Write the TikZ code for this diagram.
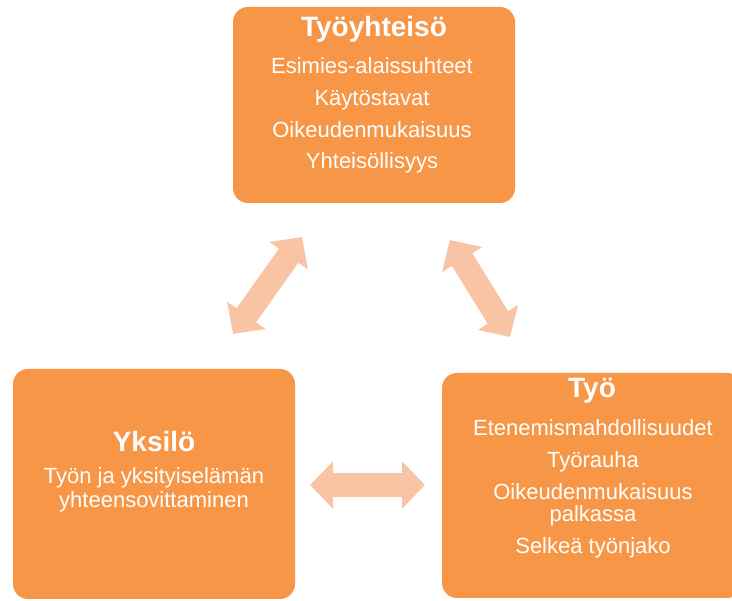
\documentclass[tikz,border=0pt]{standalone}
\usepackage{fontspec}
\setmainfont{Liberation Sans}
\usetikzlibrary{arrows.meta}
\definecolor{boxorange}{HTML}{F79646}
\definecolor{peach}{HTML}{F9C4A3}
\tikzset{
  box/.style={fill=boxorange, draw=none, rounded corners=15pt, inner sep=0pt},
  ttl/.style={anchor=base, text=white, font=\fontsize{28}{32}\selectfont\bfseries, inner sep=0pt},
  txt/.style={anchor=base, text=white, font=\fontsize{22}{24}\selectfont, inner sep=0pt},
  dbl/.style={peach, line width=24pt,
    {Triangle[width=46pt,length=23pt]}-{Triangle[width=46pt,length=23pt]}}
}
\begin{document}
\begin{tikzpicture}[x=1pt,y=-1pt]
\useasboundingbox (0,0) rectangle (732,601);
\clip (0,0) rectangle (732,601);
% boxes
\node[box, minimum width=282pt, minimum height=196pt] (top) at (374,105) {};
\node[box, minimum width=282pt, minimum height=230pt] (left) at (154,484) {};
\node[box, minimum width=300pt, minimum height=225pt] (right) at (592,485.5) {};
% top texts
\node[ttl] (t0) at (374,37) {Työyhteisö};
\node[txt] (t1) at (372,74) {Esimies-alaissuhteet};
\node[txt] (t2) at (372,106) {Käytöstavat};
\node[txt] (t3) at (372,138) {Oikeudenmukaisuus};
\node[txt] (t4) at (372,169) {Yhteisöllisyys};
% left texts
\node[ttl] (l0) at (154,452) {Yksilö};
\node[txt] (l1) at (154,484) {Työn ja yksityiselämän};
\node[txt] (l2) at (154,508) {yhteensovittaminen};
% right texts
\node[ttl] (r0) at (592,398) {Työ};
\node[txt] (r1) at (593,436) {Etenemismahdollisuudet};
\node[txt] (r2) at (593,468) {Työrauha};
\node[txt] (r3) at (593,500) {Oikeudenmukaisuus};
\node[txt] (r4) at (593,522) {palkassa};
\node[txt] (r5) at (593,554) {Selkeä työnjako};
% arrows
\coordinate (la1) at (233,334);
\coordinate (la2) at (302,237);
\coordinate (ra1) at (450,240);
\coordinate (ra2) at (510,337);
\coordinate (ha1) at (310,485);
\coordinate (ha2) at (425,485);
\draw[dbl] (la1) -- (la2);
\draw[dbl] (ra1) -- (ra2);
\draw[dbl] (ha1) -- (ha2);
\end{tikzpicture}
\end{document}
